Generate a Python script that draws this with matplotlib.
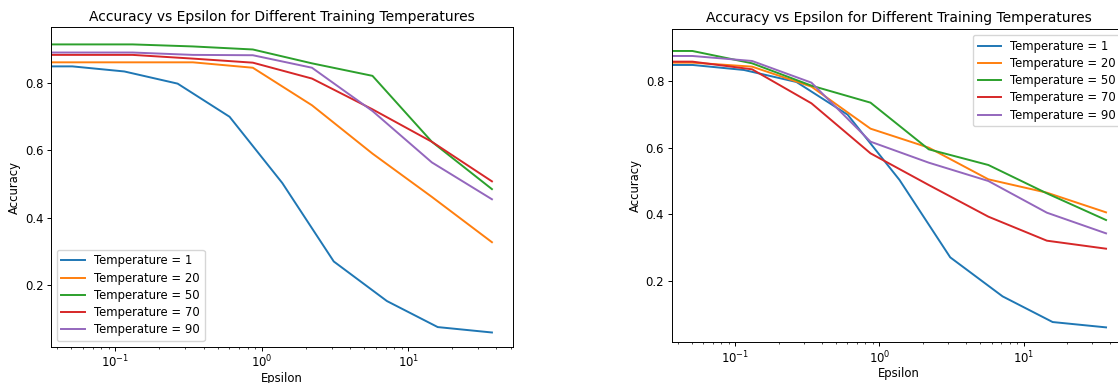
import numpy as np
import matplotlib
matplotlib.use("Agg")
import matplotlib.pyplot as plt

# epsilon grids (0 = clean accuracy, clipped on the log axis)
EPS_T1 = [0, 0.0508, 0.115, 0.266, 0.602, 1.38, 3.1, 7.15, 15.9, 37.3]
EPS = [0, 0.0505, 0.131, 0.338, 0.868, 2.2, 5.7, 14.5, 37.3]
TEMPS = [1, 20, 50, 70, 90]

ACC_T1 = [0.848, 0.848, 0.833, 0.797, 0.699, 0.503, 0.271, 0.154, 0.077, 0.061]

# left panel
LEFT_T20 = [0.860, 0.860, 0.860, 0.860, 0.844, 0.733, 0.590, 0.462, 0.328]
LEFT_T50 = [0.913, 0.913, 0.913, 0.907, 0.898, 0.857, 0.820, 0.625, 0.485]
LEFT_T70 = [0.882, 0.882, 0.882, 0.871, 0.859, 0.812, 0.721, 0.625, 0.508]
LEFT_T90 = [0.889, 0.889, 0.889, 0.882, 0.881, 0.844, 0.716, 0.564, 0.455]

# right panel
RIGHT_T20 = [0.855, 0.855, 0.843, 0.783, 0.657, 0.600, 0.505, 0.465, 0.406]
RIGHT_T50 = [0.890, 0.890, 0.853, 0.786, 0.735, 0.595, 0.548, 0.463, 0.383]
RIGHT_T70 = [0.858, 0.858, 0.835, 0.733, 0.583, 0.488, 0.393, 0.321, 0.297]
RIGHT_T90 = [0.875, 0.875, 0.860, 0.795, 0.618, 0.555, 0.500, 0.405, 0.343]

TITLE = "Accuracy vs Epsilon for Different Training Temperatures"

fig = plt.figure(figsize=(11.18, 3.83), dpi=100)
ax1 = fig.add_axes([0.0456, 0.0948, 0.4132, 0.8334])
ax2 = fig.add_axes([0.6008, 0.1078, 0.4070, 0.8157])

panels = [
    (ax1, [LEFT_T20, LEFT_T50, LEFT_T70, LEFT_T90], "lower left", (0.019, 0.963)),
    (ax2, [RIGHT_T20, RIGHT_T50, RIGHT_T70, RIGHT_T90], "upper right", (0.018, 0.955)),
]
for ax, series, loc, ylim in panels:
    ax.plot(EPS_T1, ACC_T1, lw=1.4, label=f"Temperature = {TEMPS[0]}")
    for t, acc in zip(TEMPS[1:], series):
        ax.plot(EPS, acc, lw=1.4, label=f"Temperature = {t}")
    ax.set_xscale("log")
    ax.set_ylim(*ylim)
    ax.set_title(TITLE, fontsize=10, pad=5)
    ax.set_xlabel("Epsilon", fontsize=8.4, labelpad=1)
    ax.set_ylabel("Accuracy", fontsize=8.4, labelpad=3)
    ax.tick_params(labelsize=8.4, length=2.9, width=0.7, pad=2.5)
    ax.tick_params(which="minor", length=1.7, width=0.5)
    for s in ax.spines.values():
        s.set_linewidth(0.7)
    ax.legend(loc=loc, fontsize=8.4, labelspacing=0.36)

fig.savefig("out.png", dpi=100)
